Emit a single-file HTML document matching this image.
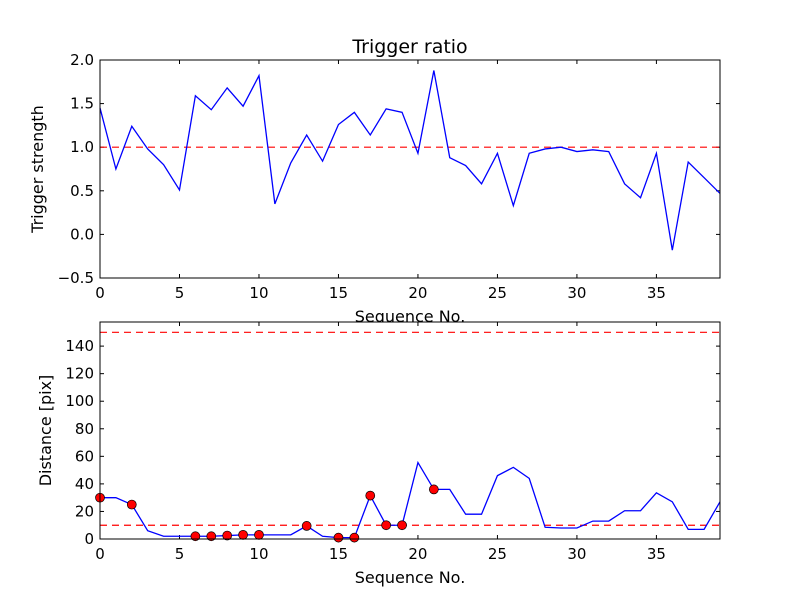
<!DOCTYPE html>
<html><head><meta charset="utf-8"><style>body{margin:0;background:#fff}svg{display:block;font-family:"DejaVu Sans","Liberation Sans",sans-serif}</style></head>
<body>
<svg id="c" width="800" height="600"></svg>
<script>
const seqTop = [...Array(40).keys()];
const triggerStrength = [1.45,0.75,1.24,0.98,0.8,0.51,1.59,1.43,1.68,1.47,1.82,0.35,0.82,1.14,0.84,1.26,1.40,1.14,1.44,1.40,0.93,1.88,0.88,0.79,0.58,0.93,0.33,0.93,0.98,1.0,0.95,0.97,0.95,0.58,0.42,0.93,-0.18,0.83,0.65,0.47];
const distance = [30,30,25,6,2,2,2,2,2.5,3,3,3,3,9.5,2,1,1,31.5,10,10,55.5,36,36,18,18,46,52,44,8.5,8,8,13,13,20.5,20.5,33.5,27,7,7,27];
const markerIdx = [0,2,6,7,8,9,10,13,15,16,17,18,19,21];
const xTicks = [0,5,10,15,20,25,30,35];
const yTopTicks = [-0.5,0.0,0.5,1.0,1.5,2.0];
const yBotTicks = [0,20,40,60,80,100,120,140];
const topThreshold = 1.0;
const botThresholds = [10,150];

const svg = document.getElementById('c');
const NS = 'http://www.w3.org/2000/svg';
function mk(tag, attrs, parent){const e=document.createElementNS(NS,tag);for(const k in attrs)e.setAttribute(k,attrs[k]);(parent||svg).appendChild(e);return e;}

function panel(name, y0, y1, yMin, yMax, yTicks, fmt, ylabel, title){
  const x0=100,x1=720;
  const sx=v=>x0+(v-0)/(39-0)*(x1-x0);
  const sy=v=>y1-(v-yMin)/(yMax-yMin)*(y1-y0);
  const g=mk('g',{});
  
  
  mk('rect',{x:x0,y:y0,width:x1-x0,height:y1-y0,fill:'#fff',stroke:'none'},g);
  xTicks.forEach(t=>{
    const x=sx(t);
    mk('line',{x1:x,x2:x,y1:y1,y2:y1-4,stroke:'#000'},g);
    mk('line',{x1:x,x2:x,y1:y0,y2:y0+4,stroke:'#000'},g);
    const tx=mk('text',{x:x,y:y1+20,'text-anchor':'middle','font-size':15},g);
    tx.textContent=t;
    
    
  });
  yTicks.forEach(t=>{
    const y=sy(t);
    mk('line',{x1:x0,x2:x0+4,y1:y,y2:y,stroke:'#000'},g);
    mk('line',{x1:x1,x2:x1-4,y1:y,y2:y,stroke:'#000'},g);
    const tx=mk('text',{x:x0-6,y:y+5,'text-anchor':'end','font-size':15},g);
    tx.textContent=fmt(t);
    
    
  });
  const xl=mk('text',{x:410,y:y1+44,'text-anchor':'middle','font-size':16},g);
  xl.textContent='Sequence No.';
  
  
  const yl=mk('text',{x:0,y:0,'text-anchor':'middle','font-size':16,transform:`translate(${name==='top'?43:51},${(y0+y1)/2}) rotate(-90)`},g);
  yl.textContent=ylabel;
  
  
  if(title){const tt=mk('text',{x:410,y:y0-7,'text-anchor':'middle','font-size':19},g);tt.textContent=title;
    
    }
  return {g,sx,sy,x0,x1,y0,y1};
}

// Top
const T=panel('top',60,278,-0.5,2.0,yTopTicks,v=>v.toFixed(1).replace('-','\u2212'),'Trigger strength','Trigger ratio');
const thr=mk('line',{x1:T.x0,x2:T.x1,y1:T.sy(topThreshold),y2:T.sy(topThreshold),stroke:'#f00','stroke-width':1.2,'stroke-dasharray':'7,5'},T.g);


const l1=mk('polyline',{points:triggerStrength.map((v,i)=>T.sx(seqTop[i])+','+T.sy(v)).join(' '),fill:'none',stroke:'#00f','stroke-width':1.3},T.g);


mk('rect',{x:T.x0,y:T.y0,width:T.x1-T.x0,height:T.y1-T.y0,fill:'none',stroke:'#000'},T.g);

// Bottom
const B=panel('bottom',322,539,0,157.5,yBotTicks,v=>v,'Distance [pix]',null);
botThresholds.forEach(t=>{
  const l=mk('line',{x1:B.x0,x2:B.x1,y1:B.sy(t),y2:B.sy(t),stroke:'#f00','stroke-width':1.2,'stroke-dasharray':'7,5'},B.g);
  
  
});
const l2=mk('polyline',{points:distance.map((v,i)=>B.sx(seqTop[i])+','+B.sy(v)).join(' '),fill:'none',stroke:'#00f','stroke-width':1.3},B.g);


markerIdx.forEach(i=>{
  const c=mk('circle',{cx:B.sx(seqTop[i]),cy:B.sy(distance[i]),r:4.5,fill:'#f00',stroke:'#000','stroke-width':0.7},B.g);
  
  
});
mk('rect',{x:B.x0,y:B.y0,width:B.x1-B.x0,height:B.y1-B.y0,fill:'none',stroke:'#000'},B.g);
</script>
</body></html>
